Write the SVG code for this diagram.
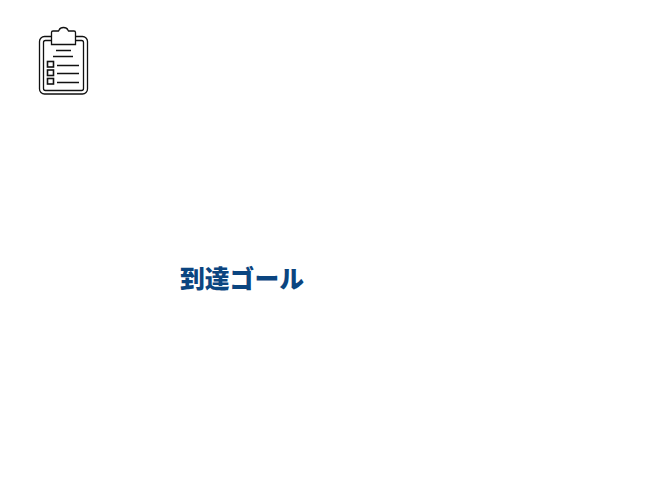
<svg xmlns="http://www.w3.org/2000/svg" width="660" height="492" viewBox="0 0 660 492">
<style>
.l{fill:none;stroke:#111;stroke-width:1.3}
.b{fill:none;stroke:#111;stroke-width:1.600}
.t{font-family:"Noto Sans CJK JP","Noto Sans",sans-serif;font-weight:900;font-size:24.800px;fill:#0b4580}
</style>
<rect width="660" height="492" fill="#fff"/>
<g id="icon">
<rect class="l" x="39.500" y="36.500" width="48" height="57.500" rx="5"/>
<rect class="l" x="43.500" y="40.500" width="40" height="50" rx="2"/>
<path d="M51.500 44.500V32.500a1.500 1.500 0 0 1 1.500-1.500H58.500c1-1 .5-3.500 5-3.500s4 2.500 5 3.500H74a1.500 1.500 0 0 1 1.500 1.500V44.500Z" fill="#fff" stroke="#111" stroke-width="1.300"/>
<path class="l" d="M56 50.500H71M53 56.500H73M57 65.500H79M57 73.500H79M57 82.500H79"/>
<rect class="b" x="47.500" y="61.500" width="6" height="5.500"/>
<rect class="b" x="47.500" y="70" width="6" height="5.500"/>
<rect class="b" x="47.500" y="78.500" width="6" height="5.500"/>
</g>
<g id="goal"><text class="t" x="180" y="288">到達ゴール</text></g>
<g id="connectors"/>
</svg>
